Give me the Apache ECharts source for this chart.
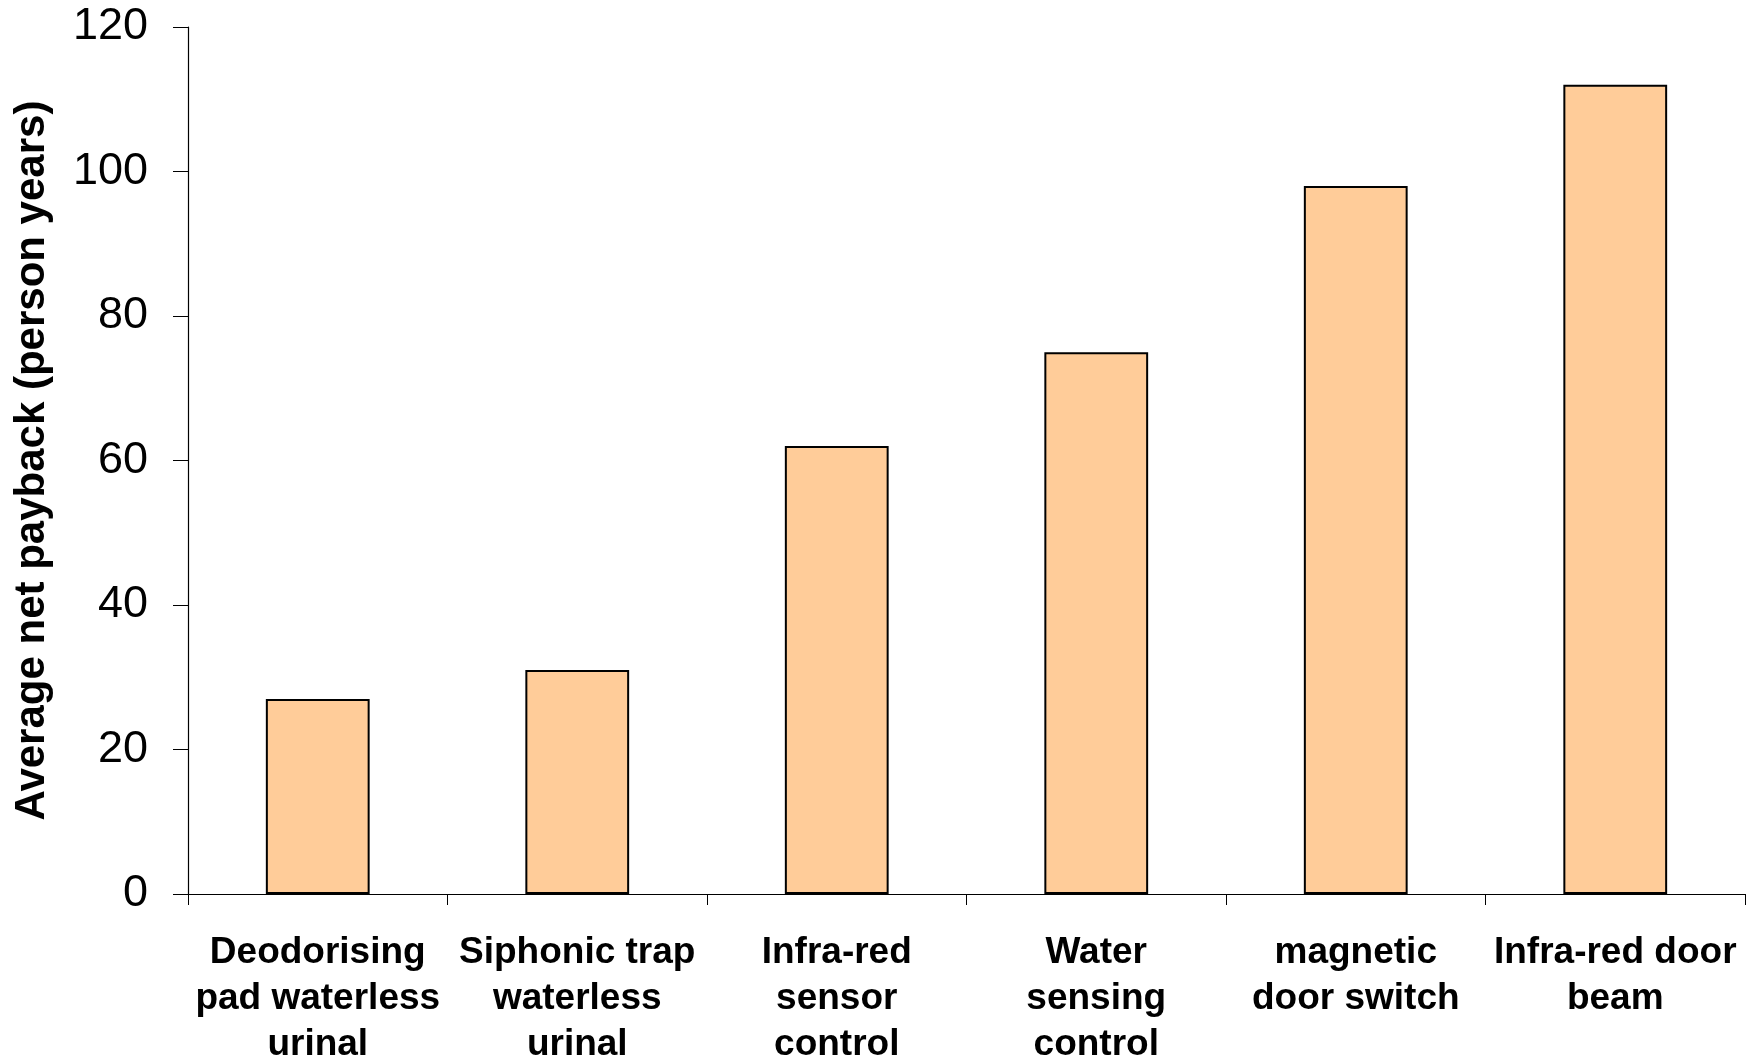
<!DOCTYPE html>
<html>
<head>
<meta charset="utf-8">
<script src="https://cdn.jsdelivr.net/npm/echarts@6/dist/echarts.min.js"></script>
<style>html,body{margin:0;padding:0;background:#fff}#c{width:1757px;height:1061px}</style>
</head>
<body>
<div id="c"></div>
<script>
const categories = [
  "Deodorising\npad waterless\nurinal",
  "Siphonic trap\nwaterless\nurinal",
  "Infra-red\nsensor\ncontrol",
  "Water\nsensing\ncontrol",
  "magnetic\ndoor switch",
  "Infra-red door\nbeam"
];
const payback = [27, 31, 62, 75, 98, 112];
const yTicks = { min: 0, max: 120, interval: 20 };
const yName = "Average net payback (person years)";

const chart = echarts.init(document.getElementById('c'), null, {renderer: 'canvas'});
chart.setOption({
  backgroundColor: '#ffffff',
  animation: false,
  textStyle: { fontFamily: 'Liberation Sans, Arial, sans-serif' },
  grid: { left: 188, right: 12, top: 27, bottom: 167, containLabel: false, outerBoundsMode: 'none' },
  xAxis: {
    type: 'category',
    data: categories,
    axisLine: { lineStyle: { color: '#000', width: 1.2 } },
    axisTick: { show: true, length: 11, inside: false, lineStyle: { color: '#000', width: 1 } },
    axisLabel: {
      interval: 0, margin: 36, color: '#000', fontSize: 37, fontWeight: 'bold',
      lineHeight: 46, fontFamily: 'Liberation Sans, Arial, sans-serif'
    },
    splitLine: { show: false }
  },
  yAxis: {
    type: 'value',
    min: yTicks.min, max: yTicks.max, interval: yTicks.interval,
    name: yName,
    nameLocation: 'middle',
    nameGap: 135,
    nameTextStyle: { color: '#000', fontSize: 42, fontWeight: 'bold', fontFamily: 'Liberation Sans, Arial, sans-serif' },
    axisLine: { show: true, lineStyle: { color: '#000', width: 1.2 } },
    axisTick: { show: true, length: 15, inside: false, lineStyle: { color: '#000', width: 1 } },
    axisLabel: { margin: 40, color: '#000', fontSize: 45, fontFamily: 'Liberation Sans, Arial, sans-serif' },
    splitLine: { show: false }
  },
  series: [{
    type: 'bar',
    data: payback,
    barWidth: '40%',
    itemStyle: { color: '#FFCC99', borderColor: '#000', borderWidth: 2 },
    label: { show: false }
  }]
});
</script>
</body>
</html>
